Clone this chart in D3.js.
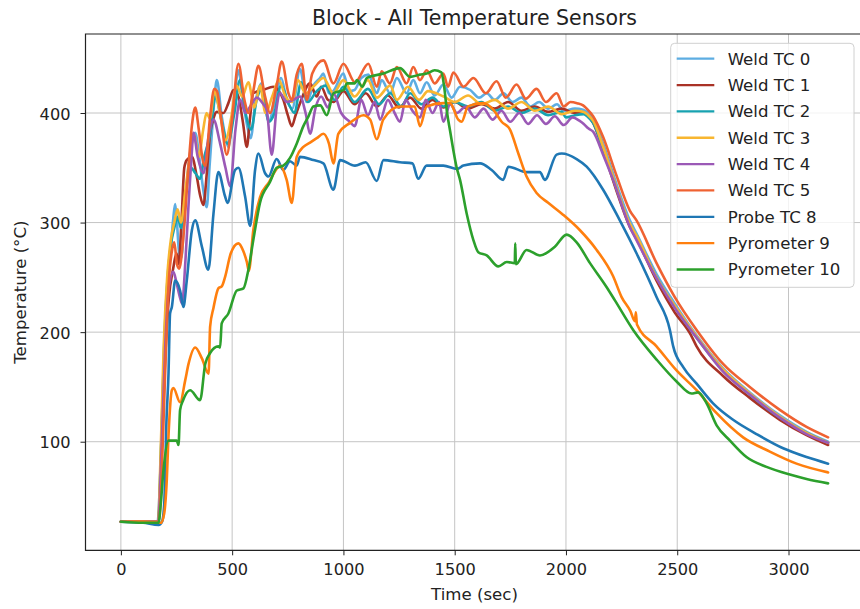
<!DOCTYPE html>
<html>
<head>
<meta charset="utf-8">
<script src="https://cdn.jsdelivr.net/npm/d3@7"></script>
<style>
  body { margin: 0; background: #fff; }
  text { font-family: "DejaVu Sans", sans-serif; fill: #222; }
</style>
</head>
<body>
<script>
// [time (sec), temperature (°C)]
var weldTC0 = [[0,27],[120,27],[165,27],[175,60],[190,150],[205,230],[222,270],[236,305],[244,317],[252,300],[262,272],[272,268],[285,305],[300,345],[318,372],[334,382],[352,360],[370,330],[386,314],[398,350],[409,382],[420,412],[431,430],[453,397],[470,378],[483,369],[506,405],[528,439],[548,412],[566,390],[583,377],[605,410],[633,427],[650,405],[663,392],[690,408],[720,432],[745,412],[770,404],[805,440],[835,410],[865,425],[895,432],[910,436],[935,418],[955,420],[1000,436],[1025,420],[1050,421],[1080,432],[1112,435],[1150,418],[1172,430],[1210,418],[1240,432],[1284,418],[1314,430],[1344,418],[1374,428],[1410,416],[1449,426],[1486,414],[1524,424],[1570,421],[1610,414],[1644,418],[1680,412],[1720,418],[1760,410],[1800,414],[1840,406],[1880,410],[1920,404],[1960,408],[1990,402],[2040,404],[2077,403],[2100,400],[2122,395],[2167,372],[2227,335],[2287,302],[2317,290],[2407,253],[2489,226],[2587,197],[2706,167],[2826,145],[2961,124],[3081,109],[3178,100]];

var weldTC1 = [[0,27],[120,27],[168,27],[182,90],[200,180],[215,230],[235,258],[250,272],[260,262],[272,300],[285,350],[296,357],[319,360],[341,342],[356,325],[371,316],[386,345],[401,381],[416,395],[431,401],[461,400],[483,409],[506,421],[528,415],[548,392],[566,369],[580,395],[595,418],[640,421],[685,424],[730,412],[750,398],[768,388],[785,398],[805,409],[850,427],[880,415],[900,424],[930,412],[955,410],[1000,420],[1050,408],[1100,418],[1150,406],[1200,416],[1250,405],[1300,414],[1350,404],[1400,412],[1450,405],[1500,410],[1560,404],[1620,408],[1680,404],[1740,410],[1800,402],[1860,406],[1920,401],[1980,404],[2040,400],[2080,400],[2100,397],[2122,391],[2167,366],[2227,329],[2287,296],[2317,285],[2407,247],[2489,218],[2560,198],[2587,187],[2706,160],[2826,140],[2961,120],[3081,106],[3178,97]];

var weldTC2 = [[0,27],[120,27],[168,27],[180,90],[195,190],[210,250],[225,280],[240,295],[255,305],[270,295],[290,325],[315,350],[335,345],[355,340],[375,360],[400,380],[425,415],[450,395],[480,372],[510,400],[535,430],[560,400],[585,385],[610,412],[635,422],[665,392],[690,400],[720,425],[755,408],[780,400],[810,428],[840,410],[880,420],[920,425],[960,412],[1000,424],[1050,410],[1110,422],[1160,408],[1210,418],[1260,406],[1300,418],[1350,408],[1400,414],[1450,406],[1500,410],[1560,406],[1620,410],[1680,402],[1740,406],[1800,400],[1860,404],[1920,398],[1980,401],[2000,396],[2040,398],[2080,399],[2100,396],[2122,391],[2167,367],[2227,331],[2287,298],[2317,287],[2407,250],[2489,223],[2587,195],[2706,165],[2826,143],[2961,122],[3081,108],[3178,99]];

var weldTC3 = [[0,27],[120,27],[167,27],[178,85],[192,185],[208,250],[225,285],[240,300],[255,312],[270,300],[290,330],[310,360],[330,380],[350,360],[370,385],[385,400],[400,395],[420,420],[445,400],[470,375],[495,395],[520,425],[545,415],[573,428],[600,405],[625,425],[650,400],[680,415],[710,430],[740,415],[770,410],[795,430],[830,418],[870,425],[910,432],[955,418],[1000,430],[1050,415],[1110,430],[1150,414],[1210,425],[1240,412],[1290,424],[1340,412],[1380,420],[1450,415],[1500,410],[1560,416],[1620,408],[1680,412],[1740,404],[1800,410],[1860,402],[1920,406],[1980,399],[2040,402],[2080,401],[2100,398],[2122,393],[2167,369],[2227,332],[2287,299],[2317,288],[2407,250],[2489,224],[2587,196],[2706,166],[2826,144],[2961,123],[3081,108],[3178,99]];

var weldTC4 = [[0,27],[120,27],[168,27],[182,90],[200,190],[215,240],[236,255],[250,245],[265,232],[275,226],[290,265],[305,320],[318,362],[326,382],[345,360],[371,345],[395,380],[416,394],[446,372],[470,350],[491,333],[515,385],[536,412],[560,400],[581,406],[610,414],[640,408],[655,403],[678,362],[700,405],[715,418],[745,410],[775,412],[805,415],[830,400],[850,381],[875,405],[900,415],[930,405],[955,418],[990,400],[1028,392],[1051,388],[1080,412],[1110,398],[1140,410],[1165,394],[1200,412],[1230,400],[1254,392],[1280,412],[1310,402],[1344,396],[1370,412],[1400,400],[1430,410],[1449,392],[1480,408],[1510,400],[1550,406],[1590,396],[1630,404],[1670,394],[1710,402],[1750,392],[1790,400],[1830,390],[1870,398],[1910,390],[1950,397],[1990,389],[2030,396],[2060,393],[2080,390],[2100,386],[2122,383],[2167,362],[2212,339],[2287,296],[2317,284],[2407,249],[2489,222],[2587,195],[2706,164],[2826,143],[2961,122],[3081,107],[3178,99]];

var weldTC5 = [[0,27],[120,27],[170,27],[185,80],[200,170],[215,245],[230,275],[240,282],[252,262],[262,258],[280,285],[300,340],[320,390],[334,405],[350,385],[370,355],[380,352],[400,395],[420,422],[432,420],[450,395],[476,362],[500,395],[528,445],[555,412],[573,400],[595,420],[618,443],[648,415],[670,400],[700,425],[723,447],[753,418],[768,412],[790,435],[813,445],[835,412],[860,436],[910,448],[955,427],[1000,445],[1052,428],[1112,445],[1150,424],[1172,438],[1209,427],[1240,442],[1284,427],[1314,442],[1344,430],[1374,439],[1410,427],[1449,436],[1470,424],[1494,437],[1540,424],[1584,432],[1640,418],[1688,429],[1730,414],[1778,426],[1820,413],[1868,422],[1910,410],[1958,418],[1990,406],[2020,410],[2050,409],[2077,407],[2093,404],[2122,397],[2167,378],[2227,343],[2287,311],[2317,302],[2407,263],[2489,232],[2587,202],[2706,171],[2826,150],[2961,129],[3081,113.5],[3178,104]];

var probeTC8 = [[0,27],[100,26],[170,24],[185,27],[195,44],[205,120],[214,162],[221,217],[229,223],[244,247],[266,238],[281,223],[296,247],[319,293],[334,302],[364,278],[393,257],[416,308],[438,346],[468,324],[479,318],[513,348],[528,350],[558,324],[581,297],[603,348],[618,363],[648,345],[663,342],[700,358],[730,348],[760,356],[790,352],[805,360],[865,357],[910,354],[955,330],[985,357],[1052,352],[1100,355],[1150,338],[1180,357],[1254,355],[1310,354],[1336,340],[1374,352],[1449,352],[1511,349],[1539,352],[1614,354],[1666,348],[1718,339],[1741,351],[1823,346],[1883,346],[1905,339],[1958,362],[1981,363],[2048,358],[2093,351],[2167,330],[2242,302],[2317,272],[2407,232],[2467,202],[2482,187],[2527,168],[2587,153],[2661,135],[2751,120],[2856,107],[2976,94],[3081,86],[3178,80]];

var pyrometer9 = [[0,27],[100,27],[180,26],[195,35],[205,60],[215,110],[229,147],[236,149],[266,136],[289,156],[304,171],[334,186],[364,176],[394,162],[401,205],[416,222],[438,240],[454,242],[469,251],[494,272],[528,281],[550,274],[566,264],[575,256],[595,293],[625,323],[666,337],[700,349],[715,352],[745,339],[768,318],[790,360],[820,369],[850,373],[880,377],[910,381],[935,372],[955,354],[977,381],[1030,391],[1090,398],[1120,394],[1150,376],[1179,394],[1254,406],[1320,406],[1344,388],[1374,406],[1449,409],[1479,409],[1516,394],[1531,392],[1560,406],[1628,409],[1673,403],[1711,392],[1748,385],[1786,363],[1823,342],[1868,327],[1920,318],[1988,307],[2063,293],[2138,275],[2212,251],[2250,232],[2290,219],[2310,210],[2314,218],[2319,207],[2407,187],[2497,165],[2587,147],[2677,126],[2796,104],[2916,91],[3036,80],[3178,72]];

var pyrometer10 = [[0,27],[100,26],[169,26],[180,45],[190,71],[214,101],[251,101],[259,97],[266,129],[280,138],[311,147],[356,138],[379,171],[401,181],[438,187],[446,186],[453,208],[483,217],[521,238],[551,240],[573,257],[595,284],[625,318],[670,337],[700,350],[730,352],[760,359],[790,372],[820,388],[843,397],[865,406],[896,407],[925,398],[956,418],[1000,421],[1017,427],[1051,427],[1061,430],[1085,424],[1106,432],[1180,436],[1254,441],[1300,433],[1344,435],[1374,436],[1410,439],[1440,437],[1452,425],[1466,400],[1479,384],[1509,350],[1524,339],[1554,308],[1584,284],[1606,273],[1644,270],[1696,260],[1734,264],[1770,263],[1772,281],[1775,262],[1823,275],[1883,270],[1950,278],[2003,289],[2048,282],[2108,263],[2183,241],[2220,229],[2302,202],[2407,175],[2497,155],[2564,144],[2594,145],[2632,135],[2677,115],[2737,101],[2811,86],[2901,77],[3006,70],[3081,66],[3178,62]];

var seriesNames = ["Weld TC 0", "Weld TC 1", "Weld TC 2", "Weld TC 3", "Weld TC 4", "Weld TC 5", "Probe TC 8", "Pyrometer 9", "Pyrometer 10"];
var seriesData = [weldTC0, weldTC1, weldTC2, weldTC3, weldTC4, weldTC5, probeTC8, pyrometer9, pyrometer10];
var seriesColors = ["#5dade2", "#a93226", "#17a2b0", "#f8b630", "#9b59b6", "#ef6232", "#1f77b4", "#ff7f0e", "#2ca02c"];

var xTicks = [0, 500, 1000, 1500, 2000, 2500, 3000];
var yTicks = [100, 200, 300, 400];

function drawChart() {
    var width = 860,
        height = 609;
    var left = 85.5, right = 863.5, top = 34, bottom = 550.3;

    var x = d3.scaleLinear().domain([-159, 3337]).range([left, right]);
    var y = d3.scaleLinear().domain([0.9, 472.1]).range([bottom, top]);

    var svg = d3.select("body").append("svg")
        .attr("width", width)
        .attr("height", height);

    // grid
    svg.append("g")
        .selectAll("line")
        .data(xTicks)
        .enter().append("line")
        .attr("x1", d => x(d)).attr("x2", d => x(d))
        .attr("y1", top).attr("y2", bottom)
        .attr("stroke", "#c4c4c4").attr("stroke-width", 1);
    svg.append("g")
        .selectAll("line")
        .data(yTicks)
        .enter().append("line")
        .attr("x1", left).attr("x2", right)
        .attr("y1", d => y(d)).attr("y2", d => y(d))
        .attr("stroke", "#c4c4c4").attr("stroke-width", 1);

    // lines, drawn in legend order so Pyrometer 10 ends on top
    var line = d3.line()
        .curve(d3.curveMonotoneX)
        .x(d => x(d[0]))
        .y(d => y(d[1]));

    svg.append("g")
        .selectAll("path")
        .data(seriesData)
        .enter().append("path")
        .attr("d", line)
        .attr("fill", "none")
        .attr("stroke", (d, i) => seriesColors[i])
        .attr("stroke-width", 2.6)
        .attr("stroke-linejoin", "round")
        .attr("stroke-linecap", "round");

    // axes
    var xAxis = svg.append("g")
        .attr("transform", "translate(0," + bottom + ")")
        .call(d3.axisBottom(x).tickValues(xTicks).tickFormat(d3.format("d")).tickSize(5).tickPadding(8));
    var yAxis = svg.append("g")
        .attr("transform", "translate(" + left + ",0)")
        .call(d3.axisLeft(y).tickValues(yTicks).tickFormat(d3.format("d")).tickSize(5).tickPadding(10));

    [xAxis, yAxis].forEach(function(a) {
        a.select(".domain").remove();
        a.selectAll("line").attr("stroke", "#222").attr("stroke-width", 1);
        a.selectAll("text")
            .attr("font-family", "DejaVu Sans")
            .attr("font-size", "16.2px")
            .attr("fill", "#222");
    });
    yAxis.selectAll("text").attr("dy", "0.38em");

    // spines
    svg.append("path")
        .attr("d", "M" + left + "," + top + "V" + bottom + "H" + right + "V" + top + "Z")
        .attr("fill", "none")
        .attr("stroke", "#222")
        .attr("stroke-width", 1.2);

    // titles
    svg.append("text")
        .attr("x", (left + right) / 2).attr("y", 25)
        .attr("text-anchor", "middle")
        .attr("font-size", "20.5px")
        .text("Block - All Temperature Sensors");
    svg.append("text")
        .attr("x", (left + right) / 2).attr("y", 600)
        .attr("text-anchor", "middle")
        .attr("font-size", "16.6px")
        .text("Time (sec)");
    svg.append("text")
        .attr("transform", "translate(26," + (top + bottom) / 2 + ") rotate(-90)")
        .attr("text-anchor", "middle")
        .attr("font-size", "16.6px")
        .text("Temperature (°C)");

    // legend
    var lg = svg.append("g");
    lg.append("rect")
        .attr("x", 670.7).attr("y", 43.3)
        .attr("width", 183.3).attr("height", 244)
        .attr("rx", 4)
        .attr("fill", "#fff").attr("fill-opacity", 0.8)
        .attr("stroke", "#d0d0d0").attr("stroke-width", 1);
    var rows = lg.selectAll("g")
        .data(seriesNames)
        .enter().append("g")
        .attr("transform", (d, i) => "translate(0," + (58.7 + i * 26.35) + ")");
    rows.append("line")
        .attr("x1", 676.7).attr("x2", 714.3)
        .attr("stroke", (d, i) => seriesColors[i])
        .attr("stroke-width", 2.3);
    rows.append("text")
        .attr("x", 727.7)
        .attr("dy", "0.36em")
        .attr("font-size", "16.6px")
        .text(d => d);
}

drawChart();
</script>
</body>
</html>
